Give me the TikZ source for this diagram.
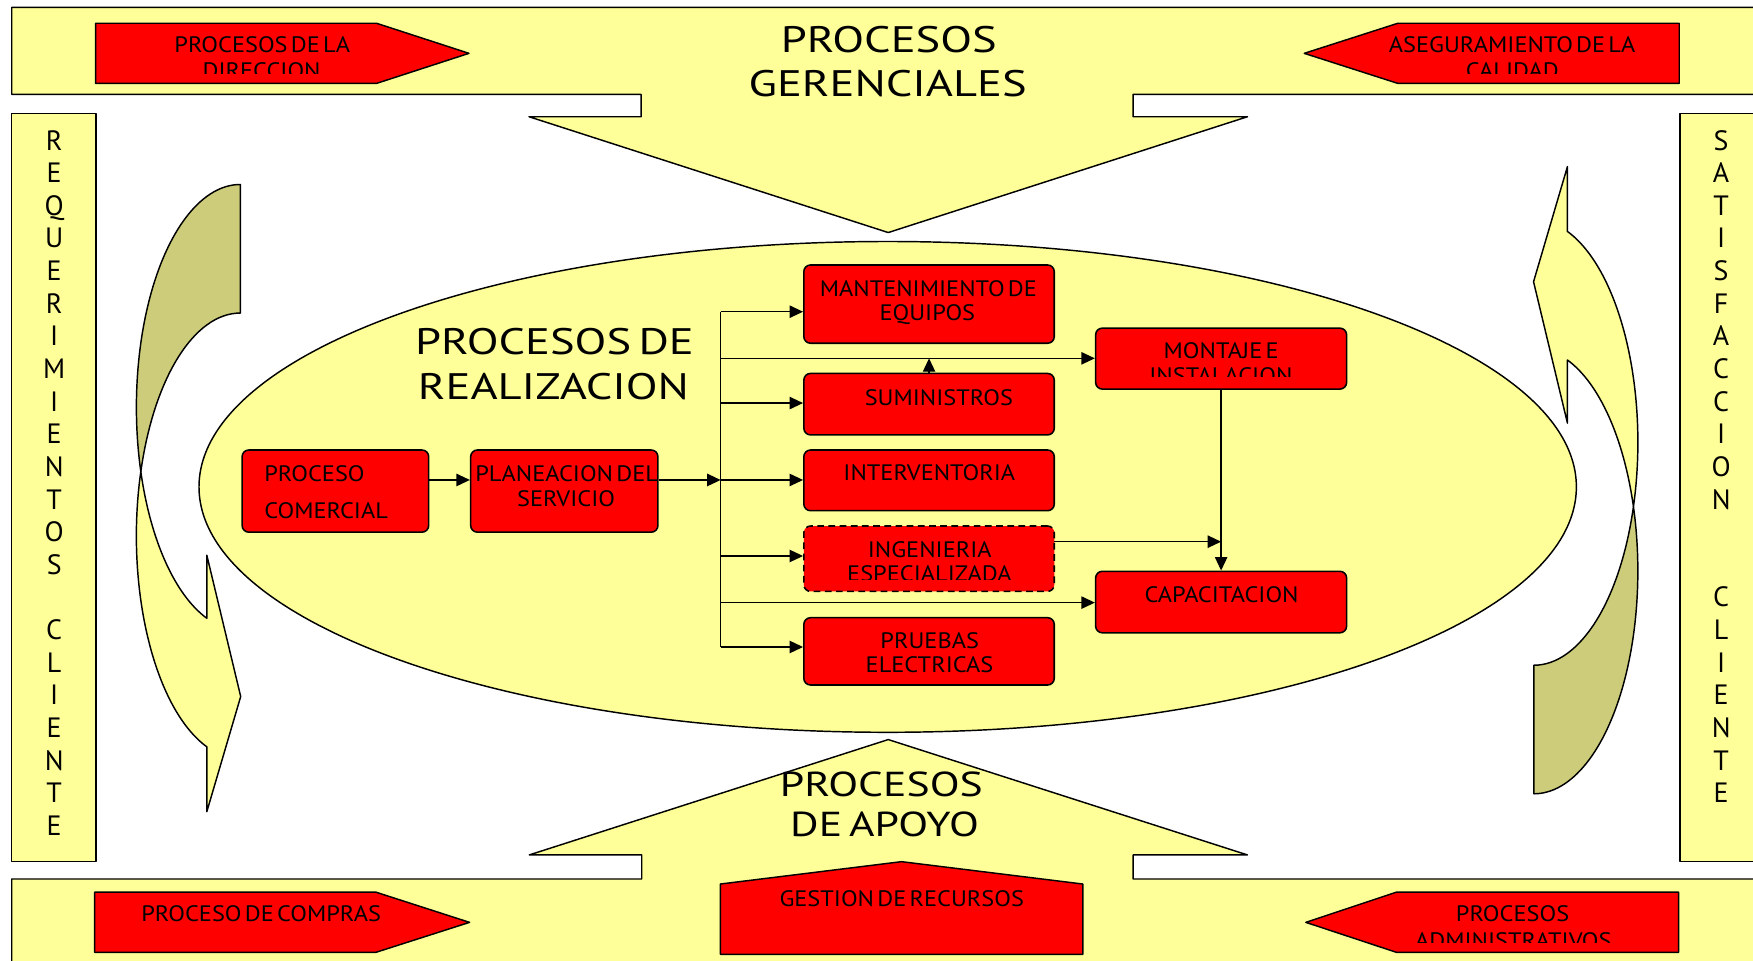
\documentclass[tikz,border=0pt]{standalone}
\usepackage{fontspec}
\setmainfont{PT Sans}
\newfontfamily\labelface{PT Sans}[FakeStretch=1.09, WordSpace=0.5]
\newfontfamily\headface{PT Sans}[FakeStretch=1.26, WordSpace=0.6]
\newfontfamily\letterface{PT Sans}
\newcommand\lblfont{\labelface\fontsize{10}{11}\selectfont}
\newcommand\ttlfont{\headface\fontsize{16.5}{20}\selectfont}
\newcommand\apyfont{\headface\fontsize{15.5}{18}\selectfont}
\newcommand\vltfont{\letterface\fontsize{12.5}{14}\selectfont}
\usetikzlibrary{arrows.meta}

\definecolor{paleyellow}{RGB}{255,255,153}
\definecolor{boxred}{RGB}{255,0,0}
\definecolor{backolive}{RGB}{204,204,122}

% curved arrow beside the client column: dark back band and light front band
\newcommand\sidearrow{%
  \path[band, fill=backolive] (215,165)
    arc[start angle=270, end angle=163.233, x radius=93, y radius=199.33]
    arc[start angle=196.767, end angle=270, x radius=93, y radius=199.33] -- cycle;
  \path[band] (125.95,421.83)
    arc[start angle=196.767, end angle=108.82, x radius=93, y radius=199.33]
    -- (185,726) -- (215.3,623) -- (185,496.6) -- (185,553)
    arc[start angle=108.82, end angle=163.233, x radius=93, y radius=199.33] -- cycle;
}

\begin{document}
\begin{tikzpicture}[x=0.5pt, y=-0.5pt, line join=round,
  band/.style={draw=black, line width=0.65pt, fill=paleyellow},
  redshape/.style={draw=black, line width=0.65pt, fill=boxred},
  procbox/.style={draw=black, line width=0.7pt, fill=boxred, rounded corners=3pt, inner sep=0pt},
  arr/.style={line width=0.65pt, -{Triangle[length=6pt,width=5.5pt]}},
  link/.style={line width=0.65pt},
  lbl/.style={inner sep=0pt, anchor=base, font=\lblfont},
  lblw/.style={inner sep=0pt, anchor=base west, font=\lblfont},
  ttl/.style={inner sep=0pt, anchor=base, font=\ttlfont},
  apy/.style={inner sep=0pt, anchor=base, font=\apyfont},
  vlt/.style={inner sep=0pt, anchor=base, font=\vltfont}]

\useasboundingbox (0,0) rectangle (1568,859);
\clip (0,0) rectangle (1568,859);

% management band with arrow pointing down
\path[band] (10.5,6.6) -- (1590,6.6) -- (1590,84.4) -- (1013.5,84.4) -- (1013.5,104.4)
  -- (1115.8,104.4) -- (794.5,208) -- (473.2,104.4) -- (573.4,104.4) -- (573.4,84.4)
  -- (10.5,84.4) -- cycle;
\node[ttl] (gerA) at (795,47.1) {PROCESOS};
\node[ttl] (gerB) at (794,86.5) {GERENCIALES};

% support band with arrow pointing up
\path[band] (10.5,880) -- (10.5,786.2) -- (574,786.2) -- (574,764.7) -- (473.4,764.7)
  -- (794.5,661.5) -- (1115.8,764.7) -- (1013.5,764.7) -- (1013.5,786.2) -- (1590,786.2)
  -- (1590,880) -- cycle;
\node[apy] (apoA) at (788.3,712) {PROCESOS};
\node[apy] (apoB) at (791.2,748.4) {DE APOYO};

% client columns
\path[band] (10.5,101.4) rectangle (85.8,770.7);
\path[band] (1502.5,101.4) rectangle (1590,770.7);
\foreach \ch [count=\k from 0] in {R,E,Q,U,E,R,I,M,I,E,N,T,O,S,{},C,L,I,E,N,T,E}
  \node[vlt] (req\k) at (48.5,134.2+29.19*\k) {\ch};
\foreach \ch [count=\k from 0] in {S,A,T,I,S,F,A,C,C,I,O,N,{},{},C,L,I,E,N,T,E}
  \node[vlt] (sat\k) at (1539.5,134.2+29.19*\k) {\ch};

% curved arrows
\sidearrow
\begin{scope}[shift={(1587,875)}]
  \begin{scope}[rotate=180]
    \sidearrow
  \end{scope}
\end{scope}

% realization processes
\path[band] (794,435.5) ellipse[x radius=616, y radius=219.5];
\node[ttl] (realA) at (496,317.5) {PROCESOS DE};
\node[ttl] (realB) at (495,357) {REALIZACION};

% red arrows on the management band
\path[redshape] (85.5,20.8) -- (336.8,20.8) -- (419.5,47.7) -- (336.8,74.6) -- (85.5,74.6) -- cycle;
\node[lbl] (dirA) at (234.6,47) {PROCESOS DE LA};
\begin{scope}
  \clip (90,50) rectangle (330,65.6);
  \node[lbl] (dirB) at (234,70.2) {DIRECCION};
\end{scope}
\path[redshape] (1502,20.8) -- (1250.3,20.8) -- (1166.6,47.7) -- (1250.3,74.6) -- (1502,74.6) -- cycle;
\node[lbl] (calA) at (1352.6,47) {ASEGURAMIENTO DE LA};
\begin{scope}
  \clip (1260,50) rectangle (1495,65.6);
  \node[lbl] (calB) at (1352.7,70.2) {CALIDAD};
\end{scope}

% red shapes on the support band
\path[redshape] (84.7,798) -- (336.3,798) -- (420,825) -- (336.3,851.8) -- (84.7,851.8) -- cycle;
\node[lbl] (com) at (233.6,824.4) {PROCESO DE COMPRAS};
\path[redshape] (644.4,853.6) -- (644.4,790.7) -- (806.4,770.7) -- (968.5,790.7) -- (968.5,853.6) -- cycle;
\node[lbl] (rec) at (806.6,811) {GESTION DE RECURSOS};
\path[redshape] (1501.4,798) -- (1249,798) -- (1168,825) -- (1249,851.8) -- (1501.4,851.8) -- cycle;
\node[lbl] (admA) at (1352.9,824.4) {PROCESOS};
\begin{scope}
  \clip (1255,828) rectangle (1495,843.2);
  \node[lbl] (admB) at (1353.6,848) {ADMINISTRATIVOS};
\end{scope}

% process boxes
\node[procbox, minimum width=83.45pt, minimum height=36.75pt] (comercial) at (300,439.25) {};
\node[procbox, minimum width=83.75pt, minimum height=36.75pt] (planea) at (504.75,439.25) {};
\node[procbox, minimum width=112pt, minimum height=35pt] (mant) at (831,272) {};
\node[procbox, minimum width=112pt, minimum height=27.5pt] (sumi) at (831,361.5) {};
\node[procbox, minimum width=112pt, minimum height=27.15pt] (inter) at (831,429.65) {};
\node[procbox, dash pattern=on 3pt off 2pt, minimum width=112pt, minimum height=29.25pt] (inge) at (831,499.75) {};
\node[procbox, minimum width=112pt, minimum height=30.1pt] (prue) at (831,582.6) {};
\node[procbox, minimum width=112.25pt, minimum height=27.25pt] (montaje) at (1092.25,320.75) {};
\node[procbox, minimum width=112.25pt, minimum height=27.5pt] (capac) at (1092.25,538.5) {};

% box labels
\node[lblw] (comA) at (236,430.8) {PROCESO};
\node[lblw] (comB) at (236,463.5) {COMERCIAL};
\node[lbl] (plaA) at (506.8,430.8) {PLANEACION DEL};
\node[lbl] (plaB) at (506.3,453.2) {SERVICIO};
\node[lbl] (manA) at (830.4,265.4) {MANTENIMIENTO DE};
\node[lbl] (manB) at (829.5,286.5) {EQUIPOS};
\node[lbl] (sumA) at (839.8,362.3) {SUMINISTROS};
\node[lbl] (intA) at (831.2,430) {INTERVENTORIA};
\node[lbl] (ingA) at (831.6,498.5) {INGENIERIA};
\begin{scope}
  \clip (725,502) rectangle (937,518);
  \node[lbl] (ingB) at (831.3,520) {ESPECIALIZADA};
\end{scope}
\node[lbl] (pruA) at (831.6,580) {PRUEBAS};
\node[lbl] (pruB) at (831.4,601.7) {ELECTRICAS};
\node[lbl] (monA) at (1092.3,320.5) {MONTAJE E};
\begin{scope}
  \clip (986,324) rectangle (1199,337);
  \node[lbl] (monB) at (1092,342.8) {INSTALACION};
\end{scope}
\node[lbl] (capA) at (1092.7,539) {CAPACITACION};

% connectors
\coordinate (trunkTop) at (644.6,278.8);
\coordinate (trunkMon) at (644.6,320.5);
\coordinate (trunkSum) at (644.6,360.5);
\coordinate (trunkMid) at (644.6,429.3);
\coordinate (trunkIng) at (644.6,497.3);
\coordinate (trunkCap) at (644.6,539);
\coordinate (trunkBot) at (644.6,578.7);
\coordinate (ingOut) at (943,484.5);
\coordinate (joinCap) at (1092.25,484.5);

\draw[arr] (comercial.east |- trunkMid) -- (planea.west |- trunkMid);
\draw[arr] (planea.east |- trunkMid) -- (trunkMid);
\draw[link] (trunkTop) -- (trunkBot);
\draw[arr] (trunkTop) -- (trunkTop -| mant.west);
\draw[arr] (trunkMon) -- (trunkMon -| montaje.west);
\draw[arr] (trunkSum) -- (trunkSum -| sumi.west);
\draw[arr] (trunkMid) -- (trunkMid -| inter.west);
\draw[arr] (trunkIng) -- (trunkIng -| inge.west);
\draw[arr] (trunkCap) -- (trunkCap -| capac.west);
\draw[arr] (trunkBot) -- (trunkBot -| prue.west);
\draw[arr] (sumi.north) -- (sumi.north |- trunkMon);
\draw[arr] (montaje.south) -- (capac.north);
\draw[arr] (ingOut) -- (joinCap);
\end{tikzpicture}
\end{document}
